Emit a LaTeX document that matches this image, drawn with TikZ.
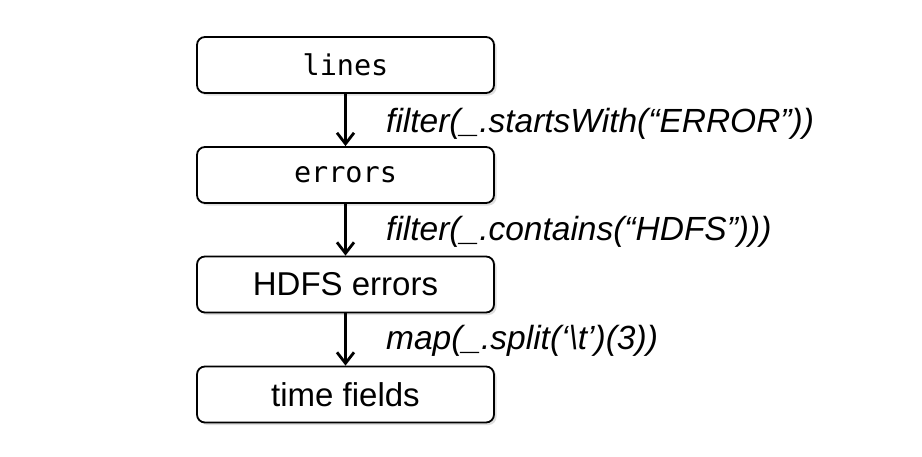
\documentclass[tikz,border=0pt]{standalone}
\usepackage{fontspec}
\setmainfont{Liberation Sans}
\newfontfamily\codefont{DejaVu Sans Mono}
\usetikzlibrary{arrows.meta,shadows}
\begin{document}
\begin{tikzpicture}[x=1pt,y=-1pt,
  stage/.style={draw=black,line width=1.8pt,rounded corners=8pt,fill=white,
    minimum width=297pt,minimum height=56pt,inner sep=0pt,
    drop shadow={opacity=0.25,shadow xshift=2.5pt,shadow yshift=-2.5pt},
    font=\fontsize{33}{38}\selectfont},
  codestage/.style={stage,font=\codefont\fontsize{28.5}{34}\selectfont},
  flow/.style={line width=2.8pt,-{Straight Barb[length=11pt,width=17pt,line width=2.8pt]}},
  op/.style={anchor=west,inner sep=0pt,font=\itshape\fontsize{33.5}{40}\selectfont}]
\useasboundingbox (0,0) rectangle (922,456);
\node[codestage] (lines) at (345.5,65) {lines};
\node[codestage] (errors) at (345.5,175) {errors};
\node[stage] (hdfs) at (345.5,284.5) {HDFS errors};
\node[stage] (time) at (345.5,394.5) {time fields};
\draw[flow] (lines) -- (errors);
\draw[flow] (errors) -- (hdfs);
\draw[flow] (hdfs) -- (time);
\node[op] (op1) at (386,124) {filter(\_.startsWith(“ERROR”))};
\node[op] (op2) at (386,232) {filter(\_.contains(“HDFS”)))};
\node[op] (op3) at (386,341) {map(\_.split(‘\textbackslash t’)(3))};
\end{tikzpicture}
\end{document}
